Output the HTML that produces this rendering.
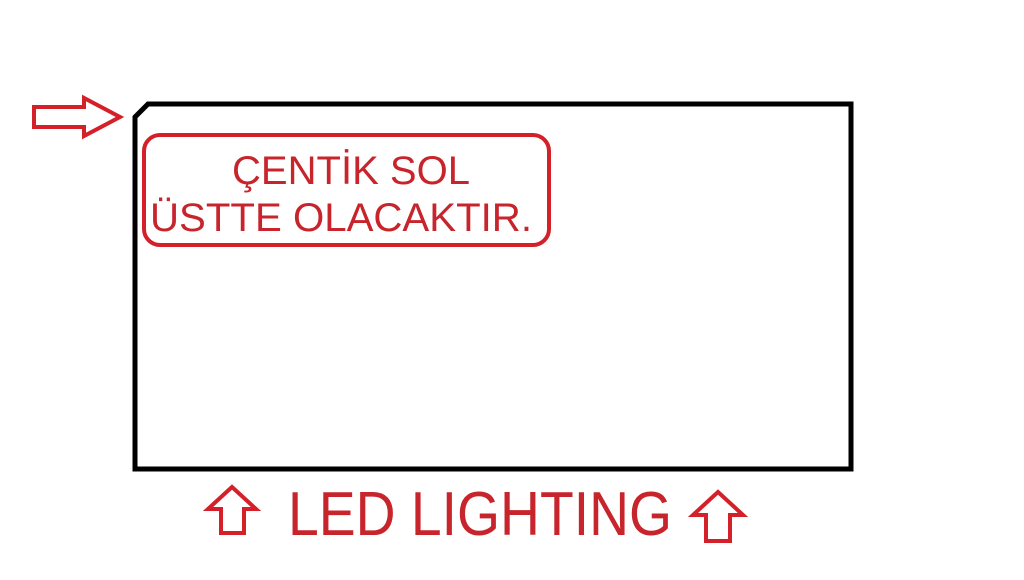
<!DOCTYPE html>
<html><head><meta charset="utf-8"><style>
html,body{margin:0;padding:0;background:#fff;width:1024px;height:580px;overflow:hidden}
</style></head><body>
<svg width="1024" height="580" xmlns="http://www.w3.org/2000/svg">
<rect width="1024" height="580" fill="#fff"/>
<path d="M135,117 L148,104 L851,104 L851,469 L135,469 Z" fill="none" stroke="#000" stroke-width="5"/>
<path d="M34,107 L84,107 L84,98 L120,117 L84,136 L84,127 L34,127 Z" fill="none" stroke="#d42028" stroke-width="4" stroke-linejoin="miter"/>
<rect x="144" y="135" width="405" height="110" rx="16" fill="none" stroke="#d42028" stroke-width="4"/>
<g font-family="Liberation Sans, sans-serif" fill="#c8242c">
<text x="232" y="184" font-size="40" textLength="238" lengthAdjust="spacingAndGlyphs">ÇENTİK SOL</text>
<text x="150" y="231" font-size="40" textLength="382" lengthAdjust="spacingAndGlyphs">ÜSTTE OLACAKTIR.</text>
<text x="288" y="535" font-size="62" textLength="384" lengthAdjust="spacingAndGlyphs">LED LIGHTING</text>
</g>
<path d="M232,487 L256,509 L244,509 L244,533 L221,533 L221,509 L208,509 Z" fill="none" stroke="#d42028" stroke-width="4"/>
<path d="M718,492 L743,515 L730,515 L730,541 L706,541 L706,515 L693,515 Z" fill="none" stroke="#d42028" stroke-width="4"/>
</svg>
</body></html>
